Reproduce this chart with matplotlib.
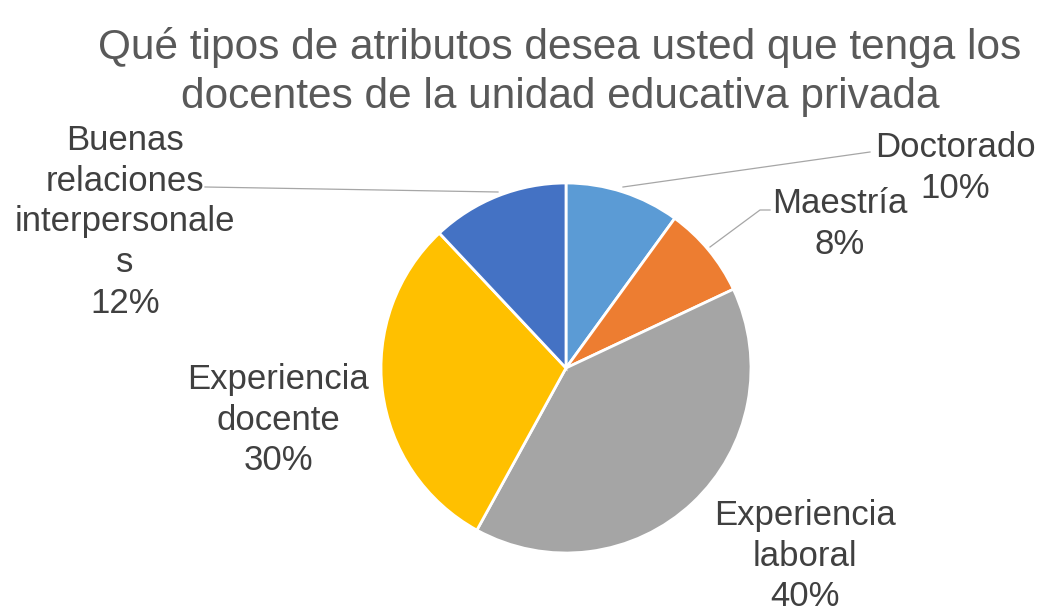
import matplotlib
matplotlib.use("Agg")
import matplotlib.pyplot as plt

# Survey results: preferred attributes of private-school teachers
categories = ["Doctorado", "Maestría", "Experiencia\nlaboral",
              "Experiencia\ndocente", "Buenas\nrelaciones\ninterpersonale\ns"]
values = [10, 8, 40, 30, 12]
colors = ["#5B9BD5", "#ED7D31", "#A5A5A5", "#FFC000", "#4472C4"]
title = "Qué tipos de atributos desea usted que tenga los\ndocentes de la unidad educativa privada"

W, H = 1042, 606
plt.rcParams["font.family"] = ["Liberation Sans", "DejaVu Sans"]

fig = plt.figure(figsize=(W / 100, H / 100), dpi=100)
ax = fig.add_axes([0, 0, 1, 1])


def py(y):
    """Convert a top-down pixel row to data y."""
    return H - y


center = (566, py(368))
radius = 185
ax.pie(values, colors=colors, startangle=90, counterclock=False,
       center=center, radius=radius,
       wedgeprops=dict(edgecolor="white", linewidth=2.0))
ax.set_xlim(0, W)
ax.set_ylim(0, H)
ax.set_aspect("equal")
ax.axis("off")

# Label block centres (pixels, top-down)
label_pos = [(955, 168), (840, 224), (805, 556), (278, 420), (125, 222)]
for name, v, (lx, ly) in zip(categories, values, label_pos):
    ax.text(lx, py(ly), f"{name}\n{v}%", ha="center", va="center",
            multialignment="center", fontsize=25, color="#404040",
            linespacing=1.3)

# Leader lines
leader_color = "#A6A6A6"
ax.plot([623, 870], [py(187), py(152)], color=leader_color, lw=0.9)
ax.plot([710, 760, 770], [py(247), py(210), py(210)], color=leader_color, lw=0.9)
ax.plot([205, 498], [py(187), py(192)], color=leader_color, lw=0.9)

ax.text(560, py(72), title, ha="center", va="center", multialignment="center",
        fontsize=30.5, color="#595959", linespacing=1.27)

fig.savefig("out.png", dpi=100)
